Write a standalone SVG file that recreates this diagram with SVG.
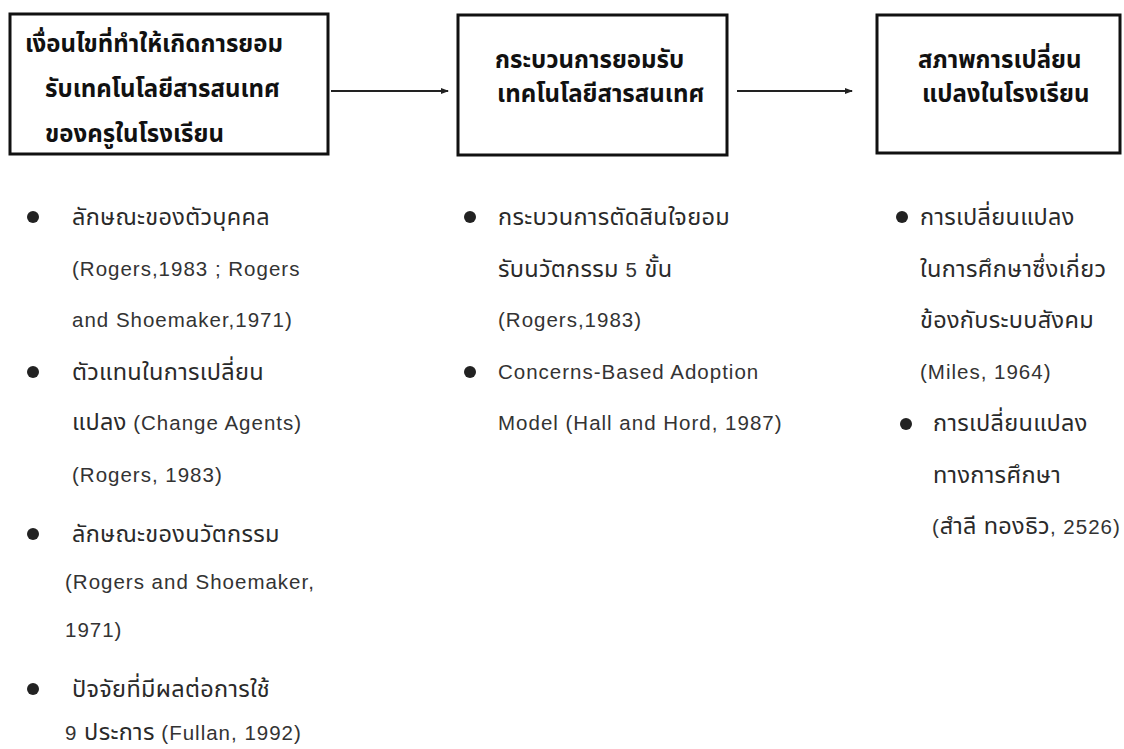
<svg xmlns="http://www.w3.org/2000/svg" width="1124" height="749" viewBox="0 0 1124 749">
<style>
.box{fill:#fff;stroke:#111;stroke-width:3}
.bt{font-family:"Liberation Sans","Noto Sans Thai","Noto Sans",sans-serif;font-size:24px;font-weight:bold;fill:#111}
.t{font-family:"Liberation Sans","Noto Sans Thai","Noto Sans",sans-serif;font-size:20.5px;letter-spacing:1px;fill:#333}
.th{font-size:23.5px;letter-spacing:0.3px;fill:#2a2a2a}
.dot{fill:#222}
.con{stroke:#222;stroke-width:2;fill:none}
</style>
<defs>
<marker id="ah" markerWidth="8" markerHeight="8" refX="7" refY="4" orient="auto" markerUnits="userSpaceOnUse">
<path d="M0,1 L8,4 L0,7 Z" fill="#222"/>
</marker>
</defs>
<rect width="1124" height="749" fill="#fff"/>
<g id="connectors">
<line class="con" x1="331" y1="91" x2="448" y2="91" marker-end="url(#ah)"/>
<line class="con" x1="737" y1="91" x2="852" y2="91" marker-end="url(#ah)"/>
</g>
<g id="node1">
<rect class="box" x="10" y="14" width="318" height="140"/>
<text class="bt" x="25" y="52">เงื่อนไขที่ทำให้เกิดการยอม</text>
<text class="bt" x="45" y="97">รับเทคโนโลยีสารสนเทศ</text>
<text class="bt" x="45" y="142">ของครูในโรงเรียน</text>
</g>
<g id="node2">
<rect class="box" x="458" y="15" width="269" height="140"/>
<text class="bt" x="495" y="68">กระบวนการยอมรับ</text>
<text class="bt" x="497" y="102">เทคโนโลยีสารสนเทศ</text>
</g>
<g id="node3">
<rect class="box" x="877" y="15" width="243" height="138"/>
<text class="bt" x="918" y="68">สภาพการเปลี่ยน</text>
<text class="bt" x="922" y="102">แปลงในโรงเรียน</text>
</g>
<g id="list1">
<circle class="dot" cx="33" cy="217" r="6"/>
<text class="t th" x="72" y="225">ลักษณะของตัวบุคคล</text>
<text class="t" x="72" y="276">(Rogers,1983 ; Rogers</text>
<text class="t" x="72" y="327">and Shoemaker,1971)</text>
<circle class="dot" cx="33" cy="372" r="6"/>
<text class="t th" x="72" y="380">ตัวแทนในการเปลี่ยน</text>
<text class="t" x="72" y="430"><tspan class="th">แปลง</tspan> (Change Agents)</text>
<text class="t" x="72" y="482">(Rogers, 1983)</text>
<circle class="dot" cx="33" cy="534" r="6"/>
<text class="t th" x="72" y="542">ลักษณะของนวัตกรรม</text>
<text class="t" x="65" y="589">(Rogers and Shoemaker,</text>
<text class="t" x="65" y="637">1971)</text>
<circle class="dot" cx="33" cy="689" r="6"/>
<text class="t th" x="72" y="697">ปัจจัยที่มีผลต่อการใช้</text>
<text class="t" x="65" y="740">9 <tspan class="th">ประการ</tspan> (Fullan, 1992)</text>
</g>
<g id="list2">
<circle class="dot" cx="470" cy="217" r="6"/>
<text class="t th" x="498" y="225">กระบวนการตัดสินใจยอม</text>
<text class="t" x="498" y="277"><tspan class="th">รับนวัตกรรม</tspan> 5 <tspan class="th">ขั้น</tspan></text>
<text class="t" x="498" y="327">(Rogers,1983)</text>
<circle class="dot" cx="470" cy="372" r="6"/>
<text class="t" x="498" y="379">Concerns-Based Adoption</text>
<text class="t" x="498" y="430">Model (Hall and Hord, 1987)</text>
</g>
<g id="list3">
<circle class="dot" cx="902" cy="217" r="6"/>
<text class="t th" x="920" y="225">การเปลี่ยนแปลง</text>
<text class="t th" x="920" y="277">ในการศึกษาซึ่งเกี่ยว</text>
<text class="t th" x="920" y="328">ข้องกับระบบสังคม</text>
<text class="t" x="920" y="379">(Miles, 1964)</text>
<circle class="dot" cx="906" cy="424" r="6"/>
<text class="t th" x="933" y="431">การเปลี่ยนแปลง</text>
<text class="t th" x="933" y="483">ทางการศึกษา</text>
<text class="t" x="932" y="534">(<tspan class="th">สำลี ทองธิว</tspan>, 2526)</text>
</g>
</svg>
